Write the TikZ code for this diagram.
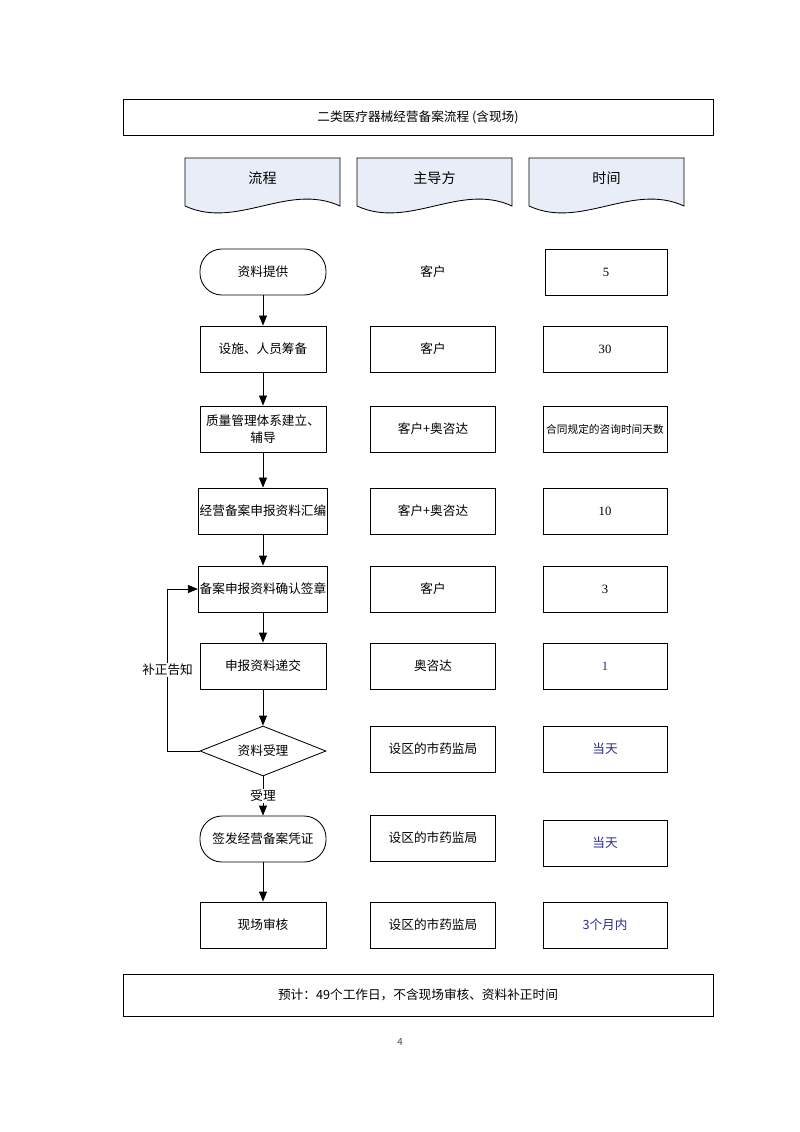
\documentclass[tikz,border=0pt]{standalone}
\usepackage{fontspec}
\setmainfont{Noto Sans CJK SC}
\newfontfamily\numfont{Liberation Serif}
\usetikzlibrary{shapes.geometric,arrows.meta}
\definecolor{tapefill}{HTML}{E9EDF7}
\definecolor{navy}{HTML}{2B2B8E}

\begin{document}
\begin{tikzpicture}[x=0.025cm,y=-0.025cm,line width=0.6pt,
    font=\fontsize{9}{12}\selectfont,
    flowbox/.style={draw,minimum width=3.15cm,minimum height=1.15cm,inner sep=1pt,align=center},
    roundbox/.style={flowbox,rounded corners=0.55cm},
    leadbox/.style={draw,minimum width=3.125cm,minimum height=1.15cm},
    timebox/.style={draw,minimum width=3.1cm,minimum height=1.15cm,inner sep=1pt},
    decide/.style={draw,diamond,aspect=2.5,minimum width=3.15cm,minimum height=1.25cm,inner sep=0pt},
    wide/.style={draw,minimum width=14.75cm},
    flowarrow/.style={-{Triangle[length=2.5mm,width=2mm]}}]
\useasboundingbox[fill=white] (0,0) rectangle (800,1132);

\node[wide,minimum height=0.9cm] (title) at (418,117) {二类医疗器械经营备案流程 (含现场)};

\foreach \x/\t/\n in {185/流程/hflow,357/主导方/hlead,529/时间/htime}{
  \draw[fill=tapefill] (\x,158) -- (\x,206) .. controls (\x+52,230) and (\x+103,182) .. (\x+155,206) -- (\x+155,158) -- cycle;
  \node[font=\fontsize{10}{12}\selectfont] (\n) at (\x+77.5,178) {\t};
}

\node[roundbox] (supply) at (263,272) {资料提供};
\node[flowbox] (prepare) at (263,349) {设施、人员筹备};
\node[flowbox] (quality) at (263,429) {质量管理体系建立、\\辅导};
\node[flowbox] (compile) at (263,511) {经营备案申报资料汇编};
\node[flowbox] (confirm) at (263,589) {备案申报资料确认签章};
\node[flowbox] (submit) at (263,666) {申报资料递交};
\node[decide] (accept) at (263,751) {资料受理};
\node[roundbox] (issue) at (263,839) {签发经营备案凭证};
\node[flowbox] (onsite) at (263,925) {现场审核};

\node (lead1) at (433,272) {客户};
\node[leadbox] (lead2) at (433,349) {客户};
\node[leadbox] (lead3) at (433,429) {客户+奥咨达};
\node[leadbox] (lead4) at (433,511) {客户+奥咨达};
\node[leadbox] (lead5) at (433,589) {客户};
\node[leadbox] (lead6) at (433,666) {奥咨达};
\node[leadbox] (lead7) at (433,749) {设区的市药监局};
\node[leadbox] (lead8) at (433,838) {设区的市药监局};
\node[leadbox] (lead9) at (433,925) {设区的市药监局};

\node[timebox,minimum width=3.05cm] (time1) at (606,272) {\numfont 5};
\node[timebox] (time2) at (605,349) {\numfont 30};
\node[timebox,font=\fontsize{7.6}{10}\selectfont] (time3) at (605,429) {合同规定的咨询时间天数};
\node[timebox] (time4) at (605,511) {\numfont 10};
\node[timebox] (time5) at (605,589) {\numfont 3};
\node[timebox,text=navy] (time6) at (605,666) {\numfont 1};
\node[timebox,text=navy] (time7) at (605,749) {当天};
\node[timebox,text=navy] (time8) at (605,843) {当天};
\node[timebox,text=navy] (time9) at (605,925) {3个月内};

\draw[flowarrow] (supply) -- (prepare);
\draw[flowarrow] (prepare) -- (quality);
\draw[flowarrow] (quality) -- (compile);
\draw[flowarrow] (compile) -- (confirm);
\draw[flowarrow] (confirm) -- (submit);
\draw[flowarrow] (submit) -- (accept);
\draw[flowarrow] (accept) -- node[fill=white,inner sep=1pt] {受理} (issue);
\draw[flowarrow] (issue) -- (onsite);
\draw[flowarrow] (accept.west) -- ++(-32,0) |- node[pos=0.25,fill=white,inner sep=1pt] {补正告知} (confirm.west);

\node[wide,minimum height=1.05cm] (total) at (418,995) {预计：49个工作日，不含现场审核、资料补正时间};
\node[font=\fontsize{7}{8}\selectfont,text=black!70] (page) at (400,1042) {4};
\end{tikzpicture}
\end{document}
